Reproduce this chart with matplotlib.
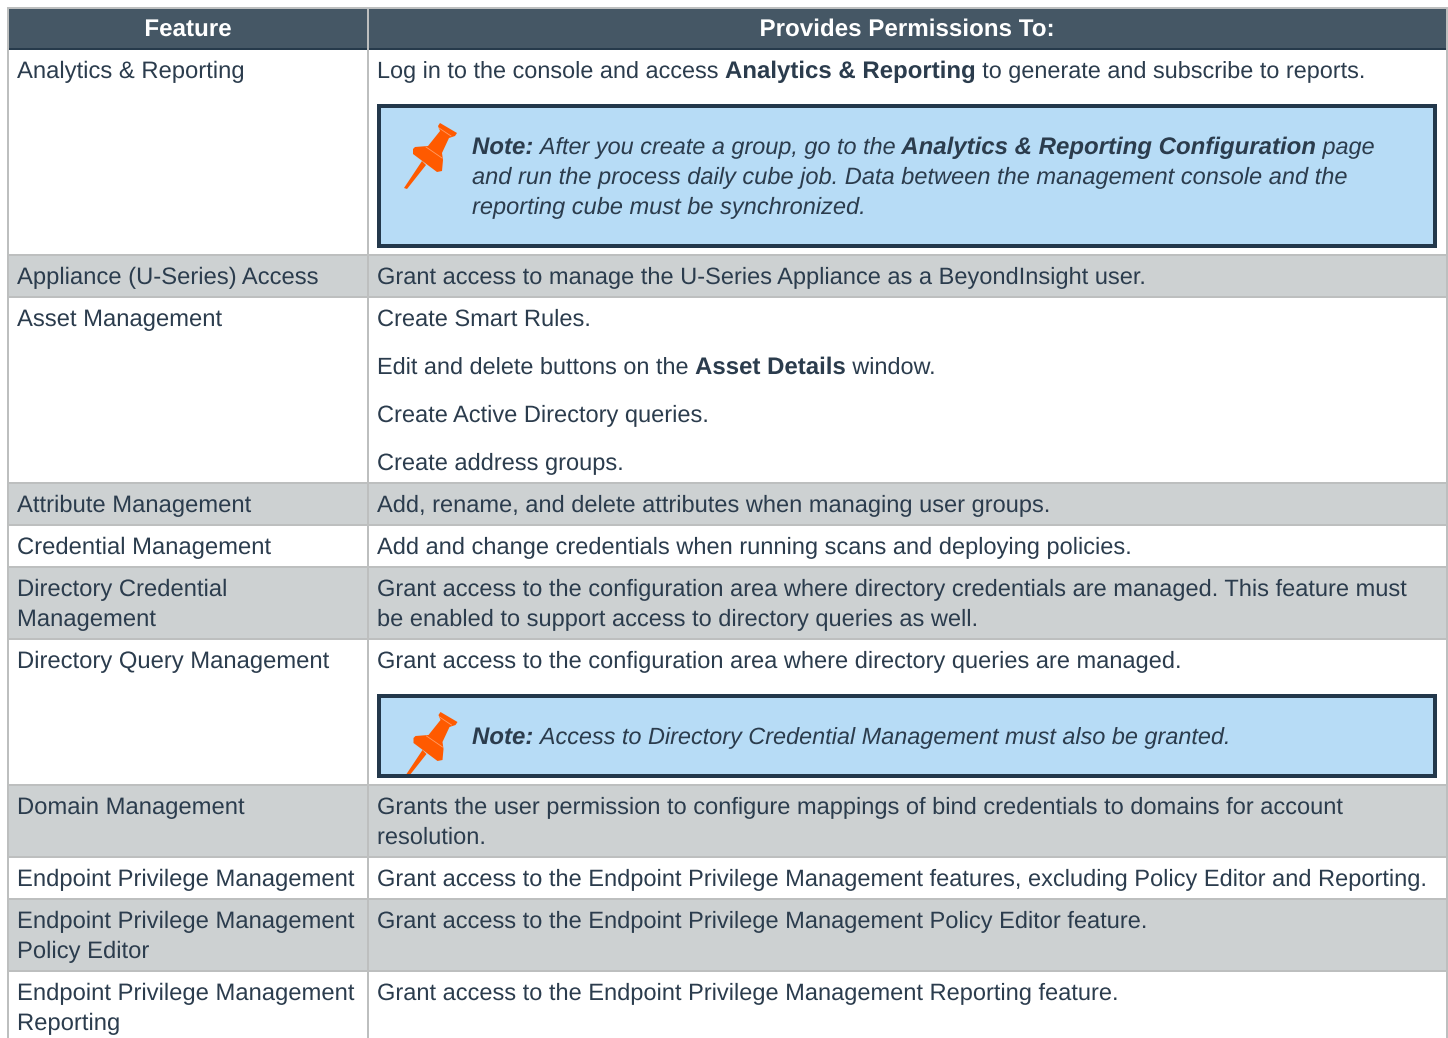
import matplotlib
matplotlib.use('Agg')
import matplotlib.pyplot as plt
import matplotlib.patheffects as pe
from matplotlib.patches import Rectangle, Polygon

plt.rcParams['font.family'] = ['Liberation Sans', 'DejaVu Sans']
plt.rcParams['text.hinting'] = 'no_hinting'
plt.rcParams['text.hinting_factor'] = 1

TEXT = '#2b3c4d'
HEADER = '#455765'
HEADER_DARK = '#263a4b'
GRID = '#bdbfbf'
GREY_ROW = '#cdd1d2'
NOTE_BG = '#b7dcf6'
NOTE_EDGE = '#23384b'
PIN = '#ff5a00'
PIN_LIGHT = '#ff9d66'
FS = 17.0
FS_MIXED = 16.88
FS_FEATURE = 17.14
FS_BOLD = 17.28
FS_HEAD = 17.4
# freetype snaps this font to whole pixels, drawing text as paths gets the real size
AS_PATH = [pe.Normal()]

headers = ['Feature', 'Provides Permissions To:']

# row boundaries, last row runs off the page
row_lines = [49, 255, 297, 483, 525, 567, 639, 785, 857, 899, 971, 1050]
grey_rows = [1, 3, 5, 7, 9]

feature_lines = [
    ['Analytics & Reporting'],
    ['Appliance (U-Series) Access'],
    ['Asset Management'],
    ['Attribute Management'],
    ['Credential Management'],
    ['Directory Credential', 'Management'],
    ['Directory Query Management'],
    ['Domain Management'],
    ['Endpoint Privilege Management'],
    ['Endpoint Privilege Management', 'Policy Editor'],
    ['Endpoint Privilege Management', 'Reporting'],
]

# (baseline, runs) - a run is (text, bold)
permission_lines = [
    (78, [('Log in to the console and access ', False), ('Analytics & Reporting', True),
          (' to generate and subscribe to reports.', False)]),
    (284, [('Grant access to manage the U-Series Appliance as a BeyondInsight user.', False)]),
    (326, [('Create Smart Rules.', False)]),
    (374, [('Edit and delete buttons on the ', False), ('Asset Details', True), (' window.', False)]),
    (422, [('Create Active Directory queries.', False)]),
    (470, [('Create address groups.', False)]),
    (512, [('Add, rename, and delete attributes when managing user groups.', False)]),
    (554, [('Add and change credentials when running scans and deploying policies.', False)]),
    (596, [('Grant access to the configuration area where directory credentials are managed. This feature must', False)]),
    (626, [('be enabled to support access to directory queries as well.', False)]),
    (668, [('Grant access to the configuration area where directory queries are managed.', False)]),
    (814, [('Grants the user permission to configure mappings of bind credentials to domains for account', False)]),
    (844, [('resolution.', False)]),
    (886, [('Grant access to the Endpoint Privilege Management features, excluding Policy Editor and Reporting.', False)]),
    (928, [('Grant access to the Endpoint Privilege Management Policy Editor feature.', False)]),
    (1000, [('Grant access to the Endpoint Privilege Management Reporting feature.', False)]),
]

note_lines = [
    (154, [('Note:', True), (' After you create a group, go to the ', False),
           ('Analytics & Reporting Configuration', True), (' page', False)]),
    (184, [('and run the process daily cube job. Data between the management console and the', False)]),
    (214, [('reporting cube must be synchronized.', False)]),
    (744, [('Note:', True), (' Access to Directory Credential Management must also be granted.', False)]),
]

fig = plt.figure(figsize=(14.48, 10.38), dpi=100)
ax = fig.add_axes([0, 0, 1, 1])
ax.set_xlim(0, 1448)
ax.set_ylim(1038, 0)
ax.axis('off')
renderer = fig.canvas.get_renderer()


def run_width(s, fontsize, **kw):
    # measure big so the pixel snapping doesn't matter, dots keep the spaces counted
    a = ax.text(0, 0, '.' + s + '.', fontsize=720, **kw)
    b = ax.text(0, 0, '..', fontsize=720, **kw)
    w = a.get_window_extent(renderer).width - b.get_window_extent(renderer).width
    a.remove()
    b.remove()
    return w * fontsize / 720


def draw_runs(x, y, runs, style='normal'):
    regular = FS_MIXED if len(runs) > 1 else FS
    for s, bold in runs:
        kw = dict(fontweight='bold' if bold else 'normal', fontstyle=style)
        size = FS_BOLD if bold else regular
        lead = (len(s) - len(s.lstrip())) * run_width(' ', size, **kw)
        ax.text(x + lead, y, s.strip(), color=TEXT, fontsize=size, va='baseline', ha='left',
                zorder=5, path_effects=AS_PATH, **kw)
        x += run_width(s, size, **kw)


def draw_pin(cx, cy, clip):
    pts_head = [(7, -30), (24, -20), (22, -17), (16, -15), (9, 0), (10, 7), (9, 18), (4, 19),
                (-20, 1), (-20, -4), (-18, -6), (-5, -7), (7, -22), (5, -27)]
    pts_needle = [(-11, 8), (-7, 12), (-26, 36), (-29, 35)]
    for pts in (pts_head, pts_needle):
        p = Polygon([(cx + a, cy + b) for a, b in pts], closed=True, fc=PIN, ec='none', zorder=4)
        ax.add_patch(p)
        p.set_clip_path(clip)
    # faint highlights under the cap and above the collar
    for (x0, y0), (x1, y1) in [((6, -25), (18, -17)), ((-7, -6), (9, 5))]:
        line, = ax.plot([cx + x0, cx + x1], [cy + y0, cy + y1], color=PIN_LIGHT, lw=0.6, zorder=4.5)
        line.set_clip_path(clip)


# rows
for i in range(len(feature_lines)):
    top, bottom = row_lines[i], row_lines[i + 1]
    color = GREY_ROW if i in grey_rows else 'white'
    ax.add_patch(Rectangle((8, top), 1438, bottom - top, fc=color, ec='none', zorder=1))
    for j, line in enumerate(feature_lines[i]):
        ax.text(17, top + 29 + j * 30, line, fontsize=FS_FEATURE, color=TEXT, va='baseline', zorder=5,
                path_effects=AS_PATH)

# header
ax.add_patch(Rectangle((8, 8), 1438, 41, fc=HEADER, ec='none', zorder=1))
ax.add_patch(Rectangle((8, 47.7), 1438, 2, fc=HEADER_DARK, ec='none', zorder=2))
for label, cx in zip(headers, (188, 907)):
    w = run_width(label, FS_HEAD, fontweight='bold')
    ax.text(cx - w / 2, 36, label, fontsize=FS_HEAD, color='white', fontweight='bold', ha='left',
            va='baseline', zorder=5, path_effects=AS_PATH)

# grid
for y in row_lines[1:-1]:
    ax.add_patch(Rectangle((8, y - 1.3), 1438, 2.2, fc=GRID, ec='none', zorder=2))
for x in (7, 367, 1445.5):
    ax.add_patch(Rectangle((x, 7 if x != 367 else 8), 2, 1038, fc=GRID, ec='none', zorder=3))
ax.add_patch(Rectangle((7, 6.5), 1440, 2, fc=GRID, ec='none', zorder=3))

# note boxes
for top, bottom, pin_x, pin_y in [(104, 248, 433, 153), (694, 778, 433.5, 742)]:
    ax.add_patch(Rectangle((377, top), 1060, bottom - top, fc=NOTE_EDGE, ec='none', zorder=2))
    inner = Rectangle((381, top + 4), 1052, bottom - top - 8, fc=NOTE_BG, ec='none', zorder=3)
    ax.add_patch(inner)
    draw_pin(pin_x, pin_y, inner)

for y, runs in permission_lines:
    draw_runs(377, y, runs)
for y, runs in note_lines:
    draw_runs(472, y, runs, style='italic')

fig.savefig('out.png', dpi=100, facecolor='white')
